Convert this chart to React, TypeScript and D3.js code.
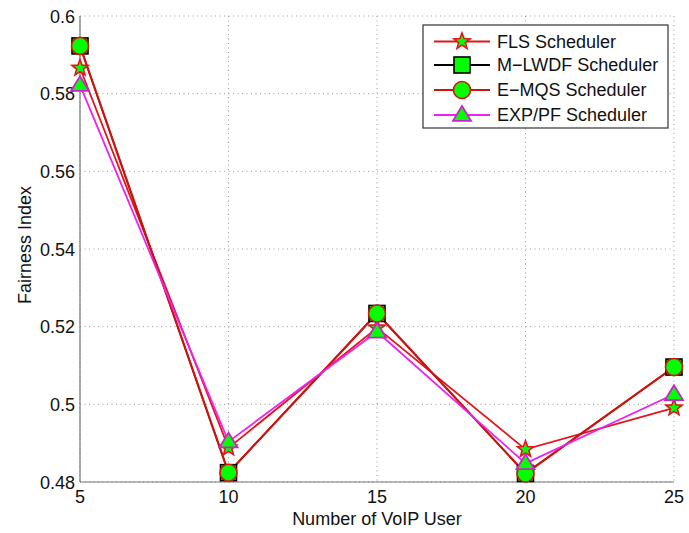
import React from "react";
import * as d3 from "d3";

const xValues = [5, 10, 15, 20, 25];
const flsValues = [0.5866, 0.4888, 0.5197, 0.4884, 0.4991];
const mlwdfValues = [0.5923, 0.4824, 0.5234, 0.4822, 0.5096];
const emqsValues = [0.5923, 0.4824, 0.5234, 0.4822, 0.5096];
const exppfValues = [0.5822, 0.4904, 0.5187, 0.4848, 0.5026];
const yTicks = [0.48, 0.5, 0.52, 0.54, 0.56, 0.58, 0.6];
const yTickLabels = ["0.48", "0.5", "0.52", "0.54", "0.56", "0.58", "0.6"];
const seriesNames = ["FLS Scheduler", "M\u2212LWDF Scheduler", "E\u2212MQS Scheduler", "EXP/PF Scheduler"];

const W = 689, H = 533;
const left = 80, right = 674, top = 16, bottom = 482;
const font = "Liberation Sans, Arial, sans-serif";

type MarkerKind = "star" | "square" | "circle" | "triangle";

const series = [
  { name: seriesNames[0], values: flsValues, line: "#e3141a", edge: "#e3141a", marker: "star" as MarkerKind, lw: 1.8 },
  { name: seriesNames[1], values: mlwdfValues, line: "#000000", edge: "#000000", marker: "square" as MarkerKind, lw: 1.4 },
  { name: seriesNames[2], values: emqsValues, line: "#cc140e", edge: "#d4160e", marker: "circle" as MarkerKind, lw: 2.2 },
  { name: seriesNames[3], values: exppfValues, line: "#ee22ee", edge: "#d020d0", marker: "triangle" as MarkerKind, lw: 1.8 },
];

function Marker({ kind, x, y, edge }: { kind: MarkerKind; x: number; y: number; edge: string }) {
  const fill = "#00ff00";
  if (kind === "circle") return <circle cx={x} cy={y} r={8.5} fill={fill} stroke={edge} strokeWidth={1.6} />;
  if (kind === "square") return <rect x={x - 8} y={y - 8} width={16} height={16} fill={fill} stroke={edge} strokeWidth={1.6} />;
  if (kind === "triangle") {
    const s = 9;
    return <path d={`M${x},${y - s} L${x + s},${y + s * 0.65} L${x - s},${y + s * 0.65} Z`} fill={fill} stroke={edge} strokeWidth={1.8} />;
  }
  const pts: string[] = [];
  for (let i = 0; i < 10; i++) {
    const r = i % 2 === 0 ? 8.5 : 3.6;
    const a = -Math.PI / 2 + (i * Math.PI) / 5;
    pts.push(`${x + r * Math.cos(a)},${y + r * Math.sin(a)}`);
  }
  return <polygon points={pts.join(" ")} fill={fill} stroke={edge} strokeWidth={1.6} />;
}

export default function App() {
  const x = d3.scaleLinear().domain([5, 25]).range([left, right]);
  const y = d3.scaleLinear().domain([0.48, 0.6]).range([bottom, top]);
  const line = d3.line<number>().x((_, i) => x(xValues[i])).y((d) => y(d));

  const legX = 423, legY = 25, legW = 245, legH = 103;
  const legRows = [41.5, 65, 90, 115];

  return (
    <svg width={W} height={H} style={{ position: "absolute", left: 0, top: 0, background: "#fff" }}>
      <rect width={W} height={H} fill="#fff" />
      {/* grid */}
      {xValues.map((v) => (
        <line key={"gx" + v} x1={x(v)} x2={x(v)} y1={top} y2={bottom} stroke="#999" strokeWidth={1} strokeDasharray="1,3.5" />
      ))}
      {yTicks.map((v) => (
        <line key={"gy" + v} x1={left} x2={right} y1={y(v)} y2={y(v)} stroke="#999" strokeWidth={1} strokeDasharray="1,3.5" />
      ))}
      {/* axes */}
      <line x1={left} x2={left} y1={top} y2={bottom} stroke="#777" strokeWidth={1.2} />
      <line x1={left} x2={right} y1={bottom} y2={bottom} stroke="#777" strokeWidth={1.2} />
      {yTicks.map((v, i) => (
        <text key={"yl" + v} x={left - 5} y={y(v) + 6.5} textAnchor="end" fontFamily={font} fontSize={18} fill="#111">{yTickLabels[i]}</text>
      ))}
      {xValues.map((v) => (
        <text key={"xl" + v} x={x(v)} y={503} textAnchor="middle" fontFamily={font} fontSize={18} fill="#111">{v}</text>
      ))}
      <text x={377} y={525} textAnchor="middle" fontFamily={font} fontSize={18} fill="#111">Number of VoIP User</text>
      <text transform={`translate(31,245) rotate(-90)`} textAnchor="middle" fontFamily={font} fontSize={18} fill="#111">Fairness Index</text>
      {/* lines */}
      {series.map((s) => (
        <path key={"l" + s.name} d={line(s.values) || ""} fill="none" stroke={s.line} strokeWidth={s.lw} />
      ))}
      {series.map((s) => (
        <g key={"m" + s.name}>
          {s.values.map((v, i) => (
            <Marker key={i} kind={s.marker} x={x(xValues[i])} y={y(v)} edge={s.edge} />
          ))}
        </g>
      ))}
      {/* legend */}
      <rect x={legX} y={legY} width={legW} height={legH} fill="#fff" stroke="#333" strokeWidth={1.2} />
      {series.map((s, i) => (
        <g key={"lg" + s.name}>
          <line x1={434} x2={490} y1={legRows[i]} y2={legRows[i]} stroke={s.line} strokeWidth={1.8} />
          <Marker kind={s.marker} x={462} y={legRows[i]} edge={s.edge} />
          <text x={497} y={legRows[i] + 6} fontFamily={font} fontSize={18} fill="#111">{s.name}</text>
        </g>
      ))}
    </svg>
  );
}
